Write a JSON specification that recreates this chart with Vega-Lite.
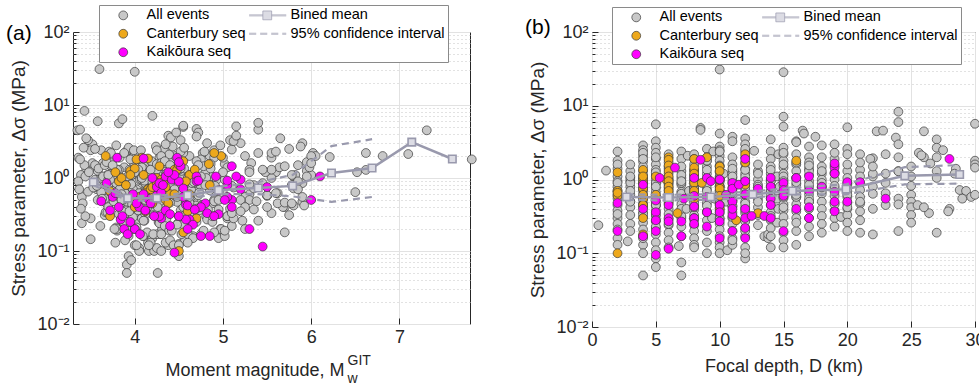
{
"$schema":"https://vega.github.io/schema/vega-lite/v6.json",
"padding":{"left":5,"top":4,"right":0,"bottom":0},
"spacing":45,
"config":{"font":"Liberation Sans","view":{"stroke":"#262626","strokeWidth":1},
"axis":{"labelFont":"Liberation Sans","titleFont":"Liberation Sans","labelColor":"#262626","titleColor":"#262626","labelFontSize":18,"titleFontSize":19,"titleFontWeight":"normal","domain":false,"tickColor":"#262626","labelOverlap":false,"labelFlush":false},
"legend":{"orient":"none","columns":2,"labelFontSize":14.5,"labelFont":"Liberation Sans","labelColor":"#000000","labelLimit":400,"symbolSize":78,"padding":3,"rowPadding":3.5,"columnPadding":-1,"labelOffset":16,"symbolOffset":14,"strokeColor":"#8a8a8a","fillColor":"#ffffff"}},
"datasets":{
"ev":[
{"m":3.4,"d":0.5,"s":0.24,"g":"A"},{"m":3.75,"d":1.1,"s":1.32,"g":"A"},
{"m":3.62,"d":2,"s":2.4,"g":"A"},{"m":4.05,"d":2,"s":1.8,"g":"A"},{"m":3.88,"d":2,"s":1.4,"g":"A"},{"m":4.31,"d":2,"s":1.1,"g":"A"},{"m":3.55,"d":2,"s":0.95,"g":"A"},{"m":4.12,"d":2,"s":0.8,"g":"A"},{"m":3.97,"d":2,"s":0.7,"g":"A"},{"m":4.46,"d":2,"s":0.55,"g":"A"},{"m":3.71,"d":2,"s":0.45,"g":"A"},{"m":4.22,"d":2,"s":0.38,"g":"A"},{"m":3.84,"d":2,"s":0.3,"g":"A"},{"m":4.6,"d":2,"s":0.25,"g":"A"},{"m":3.93,"d":2,"s":0.16,"g":"A"},{"m":4.15,"d":2,"s":0.13,"g":"A"},{"m":3.79,"d":2,"s":0.21,"g":"A"},
{"m":3.52,"d":2,"s":1.6,"g":"A"},{"m":3.66,"d":2,"s":0.62,"g":"A"},{"m":4.38,"d":2,"s":0.9,"g":"A"},{"m":4.02,"d":2,"s":0.34,"g":"A"},
{"m":3.5,"d":2.8,"s":0.145,"g":"A"},
{"m":3.45,"d":3,"s":1.3,"g":"A"},{"m":4.18,"d":3,"s":0.95,"g":"A"},{"m":3.76,"d":3,"s":0.8,"g":"A"},{"m":4.41,"d":3,"s":0.62,"g":"A"},{"m":3.58,"d":3,"s":0.5,"g":"A"},{"m":4.02,"d":3,"s":0.42,"g":"A"},{"m":3.9,"d":3,"s":0.33,"g":"A"},{"m":4.27,"d":3,"s":0.25,"g":"A"},{"m":3.83,"d":3,"s":1.05,"g":"A"},{"m":4.64,"d":3,"s":0.9,"g":"A"},{"m":3.39,"d":3,"s":1.1,"g":"A"},
{"m":3.57,"d":3,"s":0.7,"g":"A"},{"m":4.12,"d":3,"s":1.6,"g":"A"},{"m":3.96,"d":3,"s":0.2,"g":"A"},{"m":4.5,"d":3,"s":0.5,"g":"A"},
{"m":3.52,"d":4,"s":2.9,"g":"A"},{"m":4.33,"d":4,"s":2.5,"g":"A"},{"m":3.95,"d":4,"s":2.1,"g":"A"},{"m":3.68,"d":4,"s":1.75,"g":"A"},{"m":4.48,"d":4,"s":1.5,"g":"A"},{"m":4.08,"d":4,"s":1.3,"g":"A"},{"m":3.81,"d":4,"s":1.15,"g":"A"},{"m":4.21,"d":4,"s":1.0,"g":"A"},{"m":3.6,"d":4,"s":0.88,"g":"A"},{"m":4.71,"d":4,"s":0.78,"g":"A"},{"m":3.99,"d":4,"s":0.7,"g":"A"},{"m":4.37,"d":4,"s":0.62,"g":"A"},{"m":3.74,"d":4,"s":0.55,"g":"A"},{"m":4.13,"d":4,"s":0.48,"g":"A"},{"m":3.87,"d":4,"s":0.42,"g":"A"},{"m":4.52,"d":4,"s":0.36,"g":"A"},{"m":3.66,"d":4,"s":0.31,"g":"A"},{"m":4.04,"d":4,"s":0.26,"g":"A"},{"m":3.92,"d":4,"s":0.21,"g":"A"},{"m":4.29,"d":4,"s":0.17,"g":"A"},{"m":3.78,"d":4,"s":0.13,"g":"A"},{"m":4.16,"d":4,"s":0.1,"g":"A"},{"m":4.26,"d":4,"s":0.05,"g":"A"},{"m":3.4,"d":4,"s":0.55,"g":"A"},
{"m":3.62,"d":4,"s":1.05,"g":"A"},{"m":3.86,"d":4,"s":0.75,"g":"A"},{"m":4.4,"d":4,"s":0.9,"g":"A"},{"m":4.58,"d":4,"s":0.45,"g":"A"},{"m":3.71,"d":4,"s":2.3,"g":"A"},{"m":4.1,"d":4,"s":0.16,"g":"A"},{"m":3.84,"d":4,"s":0.34,"g":"A"},{"m":3.36,"d":4,"s":1.9,"g":"A"},
{"m":3.82,"d":5,"s":5.6,"g":"A"},{"m":3.47,"d":5,"s":3.3,"g":"A"},{"m":4.24,"d":5,"s":2.7,"g":"A"},{"m":3.9,"d":5,"s":2.3,"g":"A"},{"m":4.55,"d":5,"s":1.9,"g":"A"},{"m":3.64,"d":5,"s":1.6,"g":"A"},{"m":4.1,"d":5,"s":1.35,"g":"A"},{"m":3.77,"d":5,"s":1.15,"g":"A"},{"m":4.36,"d":5,"s":1.0,"g":"A"},{"m":4.01,"d":5,"s":0.87,"g":"A"},{"m":3.56,"d":5,"s":0.76,"g":"A"},{"m":4.19,"d":5,"s":0.67,"g":"A"},{"m":3.86,"d":5,"s":0.58,"g":"A"},{"m":4.44,"d":5,"s":0.5,"g":"A"},{"m":3.71,"d":5,"s":0.44,"g":"A"},{"m":4.07,"d":5,"s":0.38,"g":"A"},{"m":3.95,"d":5,"s":0.32,"g":"A"},{"m":4.3,"d":5,"s":0.27,"g":"A"},{"m":3.61,"d":5,"s":0.22,"g":"A"},{"m":4.14,"d":5,"s":0.18,"g":"A"},{"m":3.89,"d":5,"s":0.14,"g":"A"},{"m":4.05,"d":5,"s":0.11,"g":"A"},{"m":3.93,"d":5,"s":0.085,"g":"A"},{"m":3.91,"d":5,"s":0.065,"g":"A"},{"m":3.5,"d":5,"s":0.28,"g":"A"},
{"m":3.58,"d":5,"s":1.25,"g":"A"},{"m":3.83,"d":5,"s":0.9,"g":"A"},{"m":4.28,"d":5,"s":0.8,"g":"A"},{"m":4.49,"d":5,"s":0.6,"g":"A"},{"m":3.67,"d":5,"s":0.34,"g":"A"},{"m":3.99,"d":5,"s":2.0,"g":"A"},{"m":4.6,"d":5,"s":0.23,"g":"A"},{"m":4.21,"d":5,"s":0.45,"g":"A"},{"m":3.41,"d":5,"s":0.45,"g":"A"},
{"m":3.73,"d":6,"s":2.2,"g":"A"},{"m":4.42,"d":6,"s":1.7,"g":"A"},{"m":3.98,"d":6,"s":1.4,"g":"A"},{"m":4.16,"d":6,"s":1.2,"g":"A"},{"m":3.63,"d":6,"s":1.0,"g":"A"},{"m":4.57,"d":6,"s":0.85,"g":"A"},{"m":3.85,"d":6,"s":0.72,"g":"A"},{"m":4.23,"d":6,"s":0.63,"g":"A"},{"m":4.68,"d":6,"s":0.54,"g":"A"},{"m":3.91,"d":6,"s":0.47,"g":"A"},{"m":4.34,"d":6,"s":0.4,"g":"A"},{"m":3.69,"d":6,"s":0.34,"g":"A"},{"m":4.09,"d":6,"s":0.29,"g":"A"},{"m":4.49,"d":6,"s":0.24,"g":"A"},{"m":3.8,"d":6,"s":0.19,"g":"A"},{"m":4.2,"d":6,"s":0.15,"g":"A"},{"m":4.38,"d":6,"s":0.12,"g":"A"},{"m":3.36,"d":6,"s":0.9,"g":"A"},
{"m":3.55,"d":6,"s":1.5,"g":"A"},{"m":4.06,"d":6,"s":0.95,"g":"A"},{"m":4.26,"d":6,"s":0.77,"g":"A"},{"m":3.78,"d":6,"s":0.58,"g":"A"},{"m":4.62,"d":6,"s":1.05,"g":"A"},{"m":3.95,"d":6,"s":0.25,"g":"A"},{"m":4.13,"d":6,"s":0.52,"g":"A"},{"m":3.47,"d":6,"s":0.65,"g":"A"},
{"m":3.5,"d":7,"s":2.4,"g":"A"},{"m":4.28,"d":7,"s":1.9,"g":"A"},{"m":3.94,"d":7,"s":1.3,"g":"A"},{"m":4.6,"d":7,"s":1.05,"g":"A"},{"m":3.79,"d":7,"s":0.85,"g":"A"},{"m":4.12,"d":7,"s":0.68,"g":"A"},{"m":4.45,"d":7,"s":0.55,"g":"A"},{"m":3.67,"d":7,"s":0.46,"g":"A"},{"m":4.03,"d":7,"s":0.38,"g":"A"},{"m":4.81,"d":7,"s":0.3,"g":"A"},{"m":3.88,"d":7,"s":0.23,"g":"A"},{"m":4.25,"d":7,"s":0.17,"g":"A"},{"m":4.5,"d":6.8,"s":0.125,"g":"A"},{"m":3.96,"d":7,"s":0.075,"g":"A"},{"m":3.91,"d":7,"s":0.05,"g":"A"},{"m":3.43,"d":7,"s":1.5,"g":"A"},
{"m":3.62,"d":7,"s":0.64,"g":"A"},{"m":4.18,"d":7,"s":1.15,"g":"A"},{"m":4.37,"d":7,"s":0.9,"g":"A"},{"m":3.82,"d":7,"s":0.32,"g":"A"},{"m":4.55,"d":7,"s":0.4,"g":"A"},{"m":4.08,"d":7,"s":0.95,"g":"A"},
{"m":4.0,"d":7.5,"s":2.1,"g":"A"},{"m":4.3,"d":7.6,"s":0.7,"g":"A"},{"m":3.7,"d":7.4,"s":0.4,"g":"A"},
{"m":4.77,"d":8,"s":2.2,"g":"A"},{"m":3.83,"d":8,"s":1.9,"g":"A"},{"m":4.31,"d":8,"s":1.6,"g":"A"},{"m":3.59,"d":8,"s":1.35,"g":"A"},{"m":4.06,"d":8,"s":1.15,"g":"A"},{"m":4.53,"d":8,"s":1.0,"g":"A"},{"m":3.75,"d":8,"s":0.88,"g":"A"},{"m":4.19,"d":8,"s":0.77,"g":"A"},{"m":3.97,"d":8,"s":0.68,"g":"A"},{"m":4.4,"d":8,"s":0.6,"g":"A"},{"m":3.66,"d":8,"s":0.52,"g":"A"},{"m":4.88,"d":8,"s":0.45,"g":"A"},{"m":4.14,"d":8,"s":0.39,"g":"A"},{"m":3.9,"d":8,"s":0.33,"g":"A"},{"m":4.27,"d":8,"s":0.28,"g":"A"},{"m":4.62,"d":8,"s":0.24,"g":"A"},{"m":3.8,"d":8,"s":0.2,"g":"A"},{"m":4.09,"d":8,"s":0.16,"g":"A"},{"m":4.35,"d":8,"s":0.13,"g":"A"},{"m":4.0,"d":8,"s":0.12,"g":"A"},{"m":3.44,"d":8,"s":0.3,"g":"A"},
{"m":3.69,"d":8,"s":1.1,"g":"A"},{"m":4.24,"d":8,"s":0.95,"g":"A"},{"m":4.46,"d":8,"s":0.8,"g":"A"},{"m":3.87,"d":8,"s":0.5,"g":"A"},{"m":4.7,"d":8,"s":0.65,"g":"A"},{"m":4.03,"d":8,"s":0.42,"g":"A"},{"m":3.53,"d":8,"s":0.74,"g":"A"},
{"m":4.55,"d":8.5,"s":5.0,"g":"A"},{"m":4.7,"d":8.5,"s":4.7,"g":"A"},{"m":3.93,"d":9,"s":2.6,"g":"A"},{"m":4.46,"d":9,"s":2.0,"g":"A"},{"m":3.72,"d":9,"s":1.5,"g":"A"},{"m":4.17,"d":9,"s":1.2,"g":"A"},{"m":4.84,"d":9,"s":0.95,"g":"A"},{"m":3.86,"d":9,"s":0.75,"g":"A"},{"m":4.3,"d":9,"s":0.6,"g":"A"},{"m":3.98,"d":9,"s":0.48,"g":"A"},{"m":4.63,"d":9,"s":0.37,"g":"A"},{"m":4.08,"d":9,"s":0.28,"g":"A"},{"m":3.77,"d":9,"s":0.2,"g":"A"},{"m":4.4,"d":9,"s":0.14,"g":"A"},{"m":4.22,"d":9,"s":0.1,"g":"A"},{"m":3.38,"d":9,"s":1.8,"g":"A"},
{"m":3.64,"d":9,"s":1.05,"g":"A"},{"m":4.12,"d":9,"s":0.85,"g":"A"},{"m":4.36,"d":9,"s":1.35,"g":"A"},{"m":3.9,"d":9,"s":0.36,"g":"A"},{"m":4.55,"d":9,"s":0.7,"g":"A"},{"m":4.25,"d":9,"s":0.44,"g":"A"},{"m":4.75,"d":9,"s":1.8,"g":"A"},
{"m":4.9,"d":9.5,"s":2.4,"g":"A"},{"m":4.1,"d":9.6,"s":0.55,"g":"A"},{"m":4.5,"d":9.4,"s":0.3,"g":"A"},
{"m":3.6,"d":10,"s":31,"g":"A"},{"m":4.72,"d":10,"s":4.2,"g":"A"},{"m":4.97,"d":10,"s":2.8,"g":"A"},{"m":3.55,"d":10,"s":2.5,"g":"A"},{"m":4.39,"d":10,"s":2.1,"g":"A"},{"m":4.05,"d":10,"s":1.8,"g":"A"},{"m":5.02,"d":10,"s":1.55,"g":"A"},{"m":3.82,"d":10,"s":1.3,"g":"A"},{"m":4.26,"d":10,"s":1.1,"g":"A"},{"m":4.61,"d":10,"s":0.95,"g":"A"},{"m":3.7,"d":10,"s":0.82,"g":"A"},{"m":4.15,"d":10,"s":0.71,"g":"A"},{"m":4.92,"d":10,"s":0.62,"g":"A"},{"m":3.96,"d":10,"s":0.54,"g":"A"},{"m":4.48,"d":10,"s":0.47,"g":"A"},{"m":4.1,"d":10,"s":0.41,"g":"A"},{"m":3.86,"d":10,"s":0.35,"g":"A"},{"m":4.33,"d":10,"s":0.3,"g":"A"},{"m":4.7,"d":10,"s":0.25,"g":"A"},{"m":4.02,"d":10,"s":0.21,"g":"A"},{"m":4.21,"d":10,"s":0.17,"g":"A"},{"m":4.57,"d":10,"s":0.14,"g":"A"},{"m":4.44,"d":10,"s":0.12,"g":"A"},{"m":4.05,"d":10,"s":0.1,"g":"A"},{"m":3.37,"d":10,"s":0.7,"g":"A"},
{"m":3.66,"d":10,"s":1.5,"g":"A"},{"m":3.88,"d":10,"s":0.95,"g":"A"},{"m":4.31,"d":10,"s":0.8,"g":"A"},{"m":4.53,"d":10,"s":1.25,"g":"A"},{"m":4.12,"d":10,"s":0.6,"g":"A"},{"m":4.78,"d":10,"s":0.38,"g":"A"},{"m":3.76,"d":10,"s":0.48,"g":"A"},{"m":4.25,"d":10,"s":2.4,"g":"A"},{"m":3.98,"d":10,"s":0.29,"g":"A"},{"m":4.64,"d":10,"s":0.68,"g":"A"},{"m":3.44,"d":10,"s":1.05,"g":"A"},{"m":4.88,"d":10,"s":1.05,"g":"A"},
{"m":4.6,"d":10.5,"s":0.5,"g":"A"},{"m":4.8,"d":10.3,"s":1.2,"g":"A"},{"m":4.25,"d":10.6,"s":0.11,"g":"A"},
{"m":4.38,"d":11,"s":3.8,"g":"A"},{"m":5.08,"d":11,"s":3.3,"g":"A"},{"m":4.85,"d":11,"s":2.0,"g":"A"},{"m":3.74,"d":11,"s":1.6,"g":"A"},{"m":4.5,"d":11,"s":1.3,"g":"A"},{"m":4.13,"d":11,"s":1.05,"g":"A"},{"m":3.92,"d":11,"s":0.88,"g":"A"},{"m":5.12,"d":11,"s":0.74,"g":"A"},{"m":4.27,"d":11,"s":0.62,"g":"A"},{"m":3.63,"d":11,"s":0.52,"g":"A"},{"m":4.76,"d":11,"s":0.43,"g":"A"},{"m":4.04,"d":11,"s":0.36,"g":"A"},{"m":4.55,"d":11,"s":0.3,"g":"A"},{"m":3.87,"d":11,"s":0.25,"g":"A"},{"m":4.31,"d":11,"s":0.2,"g":"A"},{"m":4.66,"d":11,"s":0.16,"g":"A"},{"m":4.18,"d":11,"s":0.13,"g":"A"},{"m":4.95,"d":11,"s":0.15,"g":"A"},{"m":3.48,"d":11,"s":1.2,"g":"A"},
{"m":3.7,"d":11,"s":0.95,"g":"A"},{"m":4.08,"d":11,"s":1.4,"g":"A"},{"m":4.44,"d":11,"s":0.68,"g":"A"},{"m":3.97,"d":11,"s":0.44,"g":"A"},{"m":4.62,"d":11,"s":1.1,"g":"A"},{"m":4.21,"d":11,"s":0.31,"g":"A"},{"m":3.57,"d":11,"s":0.78,"g":"A"},{"m":4.98,"d":11,"s":0.52,"g":"A"},
{"m":3.86,"d":12,"s":6.4,"g":"A"},{"m":4.41,"d":12,"s":3.6,"g":"A"},{"m":5.2,"d":12,"s":3.0,"g":"A"},{"m":3.99,"d":12,"s":2.4,"g":"A"},{"m":4.62,"d":12,"s":2.0,"g":"A"},{"m":3.68,"d":12,"s":1.65,"g":"A"},{"m":5.05,"d":12,"s":1.4,"g":"A"},{"m":4.23,"d":12,"s":1.2,"g":"A"},{"m":4.81,"d":12,"s":1.0,"g":"A"},{"m":3.79,"d":12,"s":0.85,"g":"A"},{"m":4.47,"d":12,"s":0.72,"g":"A"},{"m":5.3,"d":12,"s":0.6,"g":"A"},{"m":4.06,"d":12,"s":0.5,"g":"A"},{"m":4.69,"d":12,"s":0.42,"g":"A"},{"m":3.94,"d":12,"s":0.35,"g":"A"},{"m":4.36,"d":12,"s":0.28,"g":"A"},{"m":5.1,"d":12,"s":0.22,"g":"A"},{"m":4.53,"d":12,"s":0.17,"g":"A"},{"m":4.16,"d":12,"s":0.12,"g":"A"},{"m":4.5,"d":12,"s":0.085,"g":"A"},{"m":4.3,"d":12,"s":0.1,"g":"A"},{"m":3.42,"d":12,"s":2.6,"g":"A"},
{"m":3.76,"d":12,"s":1.1,"g":"A"},{"m":4.11,"d":12,"s":0.92,"g":"A"},{"m":4.56,"d":12,"s":1.35,"g":"A"},{"m":3.89,"d":12,"s":0.62,"g":"A"},{"m":4.28,"d":12,"s":0.47,"g":"A"},{"m":4.75,"d":12,"s":0.78,"g":"A"},{"m":4.0,"d":12,"s":0.2,"g":"A"},{"m":3.39,"d":12,"s":0.38,"g":"A"},{"m":4.82,"d":12,"s":0.27,"g":"A"},
{"m":5.1,"d":12.7,"s":2.45,"g":"A"},{"m":4.34,"d":13,"s":1.0,"g":"A"},{"m":5.45,"d":13,"s":0.85,"g":"A"},{"m":3.83,"d":13,"s":0.7,"g":"A"},{"m":4.64,"d":13,"s":0.55,"g":"A"},{"m":4.1,"d":13,"s":0.42,"g":"A"},{"m":5.55,"d":13,"s":0.33,"g":"A"},{"m":4.28,"d":13,"s":0.24,"g":"A"},{"m":4.75,"d":13.5,"s":0.17,"g":"A"},{"m":5.02,"d":13.8,"s":0.16,"g":"A"},{"m":5.7,"d":13.8,"s":0.18,"g":"A"},
{"m":3.8,"d":13,"s":1.3,"g":"A"},{"m":4.47,"d":13,"s":0.8,"g":"A"},{"m":4.02,"d":13,"s":0.6,"g":"A"},{"m":4.9,"d":13,"s":0.5,"g":"A"},{"m":4.2,"d":13,"s":1.6,"g":"A"},{"m":4.67,"d":13,"s":1.2,"g":"A"},
{"m":4.07,"d":14,"s":2.4,"g":"A"},{"m":4.9,"d":14,"s":1.9,"g":"A"},{"m":3.75,"d":14,"s":1.5,"g":"A"},{"m":5.6,"d":14,"s":1.2,"g":"A"},{"m":4.44,"d":14,"s":1.0,"g":"A"},{"m":3.9,"d":14,"s":0.82,"g":"A"},{"m":4.85,"d":14,"s":0.68,"g":"A"},{"m":5.25,"d":14,"s":0.55,"g":"A"},{"m":4.2,"d":14,"s":0.45,"g":"A"},{"m":4.73,"d":14,"s":0.36,"g":"A"},{"m":5.05,"d":14,"s":0.28,"g":"A"},{"m":4.34,"d":14,"s":0.22,"g":"A"},{"m":4.6,"d":14,"s":0.17,"g":"A"},{"m":4.02,"d":14,"s":0.12,"g":"A"},{"m":3.45,"d":14,"s":3.5,"g":"A"},
{"m":3.72,"d":14,"s":0.95,"g":"A"},{"m":4.28,"d":14,"s":0.7,"g":"A"},{"m":4.52,"d":14,"s":1.35,"g":"A"},{"m":4.12,"d":14,"s":0.32,"g":"A"},{"m":3.85,"d":14,"s":0.6,"g":"A"},{"m":4.93,"d":14,"s":0.95,"g":"A"},
{"m":4.55,"d":14.6,"s":2.2,"g":"A"},{"m":3.97,"d":14.5,"s":1.1,"g":"A"},{"m":5.35,"d":14.7,"s":0.8,"g":"A"},{"m":4.48,"d":14.5,"s":0.55,"g":"A"},{"m":5.7,"d":14.6,"s":0.4,"g":"A"},{"m":4.11,"d":14.5,"s":0.26,"g":"A"},
{"m":4.0,"d":15,"s":28.5,"g":"A"},{"m":4.2,"d":15,"s":7.1,"g":"A"},{"m":4.55,"d":15,"s":5.2,"g":"A"},{"m":4.43,"d":15,"s":2.7,"g":"A"},{"m":5.4,"d":15,"s":2.2,"g":"A"},{"m":3.95,"d":15,"s":1.8,"g":"A"},{"m":4.78,"d":15,"s":1.45,"g":"A"},{"m":4.18,"d":15,"s":1.2,"g":"A"},{"m":5.55,"d":15,"s":1.0,"g":"A"},{"m":4.3,"d":15,"s":0.83,"g":"A"},{"m":4.96,"d":15,"s":0.68,"g":"A"},{"m":3.82,"d":15,"s":0.56,"g":"A"},{"m":4.62,"d":15,"s":0.46,"g":"A"},{"m":5.08,"d":15,"s":0.38,"g":"A"},{"m":4.24,"d":15,"s":0.31,"g":"A"},{"m":4.88,"d":15,"s":0.25,"g":"A"},{"m":4.39,"d":15,"s":0.19,"g":"A"},{"m":4.66,"d":15,"s":0.15,"g":"A"},{"m":4.5,"d":15,"s":0.12,"g":"A"},
{"m":3.7,"d":15,"s":1.1,"g":"A"},{"m":4.12,"d":15,"s":0.65,"g":"A"},{"m":4.34,"d":15,"s":1.6,"g":"A"},{"m":4.05,"d":15,"s":0.42,"g":"A"},{"m":3.9,"d":15,"s":0.95,"g":"A"},{"m":4.72,"d":15,"s":0.58,"g":"A"},{"m":4.79,"d":15,"s":2.3,"g":"A"},
{"m":4.52,"d":16,"s":3.3,"g":"A"},{"m":5.12,"d":16,"s":3.2,"g":"A"},{"m":3.88,"d":16,"s":2.2,"g":"A"},{"m":5.32,"d":16,"s":1.6,"g":"A"},{"m":4.25,"d":16,"s":1.3,"g":"A"},{"m":5.8,"d":16,"s":1.05,"g":"A"},{"m":4.65,"d":16,"s":0.85,"g":"A"},{"m":4.02,"d":16,"s":0.7,"g":"A"},{"m":5.5,"d":16,"s":0.57,"g":"A"},{"m":4.4,"d":16,"s":0.46,"g":"A"},{"m":4.83,"d":16,"s":0.37,"g":"A"},{"m":5.05,"d":16,"s":0.3,"g":"A"},{"m":4.97,"d":16,"s":0.2,"g":"A"},{"m":4.6,"d":16,"s":0.13,"g":"A"},
{"m":3.92,"d":16,"s":1.05,"g":"A"},{"m":4.16,"d":16,"s":0.58,"g":"A"},{"m":4.32,"d":16,"s":0.92,"g":"A"},{"m":4.7,"d":16,"s":1.7,"g":"A"},{"m":4.1,"d":16,"s":0.26,"g":"A"},{"m":5.0,"d":16,"s":0.62,"g":"A"},
{"m":5.4,"d":16.5,"s":4.6,"g":"A"},{"m":4.47,"d":16.6,"s":4.2,"g":"A"},{"m":3.79,"d":17,"s":2.8,"g":"A"},{"m":5.25,"d":17,"s":2.0,"g":"A"},{"m":4.19,"d":17,"s":1.7,"g":"A"},{"m":5.64,"d":17,"s":1.4,"g":"A"},{"m":4.36,"d":17,"s":1.15,"g":"A"},{"m":5.02,"d":17,"s":0.95,"g":"A"},{"m":3.96,"d":17,"s":0.78,"g":"A"},{"m":4.73,"d":17,"s":0.63,"g":"A"},{"m":5.3,"d":17,"s":0.5,"g":"A"},{"m":4.1,"d":17,"s":0.4,"g":"A"},{"m":4.88,"d":17,"s":0.3,"g":"A"},{"m":4.55,"d":17,"s":0.23,"g":"A"},{"m":4.3,"d":17,"s":0.17,"g":"A"},
{"m":4.04,"d":17,"s":1.3,"g":"A"},{"m":4.4,"d":17,"s":0.85,"g":"A"},{"m":4.62,"d":17,"s":0.55,"g":"A"},{"m":3.85,"d":17,"s":0.5,"g":"A"},{"m":4.86,"d":17,"s":1.55,"g":"A"},
{"m":5.15,"d":17.5,"s":3.8,"g":"A"},{"m":4.35,"d":18,"s":2.9,"g":"A"},{"m":4.72,"d":18,"s":1.5,"g":"A"},{"m":5.48,"d":18,"s":1.2,"g":"A"},{"m":4.08,"d":18,"s":1.0,"g":"A"},{"m":5.78,"d":18,"s":0.8,"g":"A"},{"m":4.5,"d":18,"s":0.64,"g":"A"},{"m":5.2,"d":18,"s":0.5,"g":"A"},{"m":4.26,"d":18,"s":0.4,"g":"A"},{"m":4.94,"d":18,"s":0.32,"g":"A"},{"m":4.64,"d":18,"s":0.25,"g":"A"},{"m":4.42,"d":18,"s":0.19,"g":"A"},
{"m":3.98,"d":18,"s":0.7,"g":"A"},{"m":4.18,"d":18,"s":1.3,"g":"A"},{"m":4.58,"d":18,"s":0.9,"g":"A"},{"m":4.3,"d":18,"s":2.0,"g":"A"},{"m":4.91,"d":18,"s":0.78,"g":"A"},
{"m":4.82,"d":19,"s":3.0,"g":"A"},{"m":5.55,"d":19,"s":1.9,"g":"A"},{"m":4.25,"d":19,"s":1.55,"g":"A"},{"m":5.95,"d":19,"s":1.25,"g":"A"},{"m":4.6,"d":19,"s":1.0,"g":"A"},{"m":5.1,"d":19,"s":0.78,"g":"A"},{"m":4.38,"d":19,"s":0.6,"g":"A"},{"m":5.38,"d":19,"s":0.48,"g":"A"},{"m":4.7,"d":19,"s":0.38,"g":"A"},{"m":5.05,"d":19,"s":0.3,"g":"A"},{"m":4.48,"d":19,"s":0.23,"g":"A"},{"m":5.75,"d":19.5,"s":0.31,"g":"A"},
{"m":3.96,"d":19,"s":0.82,"g":"A"},{"m":4.15,"d":19,"s":0.46,"g":"A"},{"m":4.52,"d":19,"s":2.3,"g":"A"},{"m":5.0,"d":19,"s":1.2,"g":"A"},
{"m":5.15,"d":20,"s":5.1,"g":"A"},{"m":4.56,"d":20,"s":2.6,"g":"A"},{"m":6.02,"d":20,"s":2.2,"g":"A"},{"m":5.3,"d":20,"s":1.3,"g":"A"},{"m":4.75,"d":20,"s":1.05,"g":"A"},{"m":5.9,"d":20,"s":0.85,"g":"A"},{"m":4.45,"d":20,"s":0.7,"g":"A"},{"m":5.5,"d":20,"s":0.58,"g":"A"},{"m":4.9,"d":20,"s":0.48,"g":"A"},{"m":5.68,"d":20,"s":0.4,"g":"A"},{"m":4.62,"d":20,"s":0.33,"g":"A"},{"m":5.22,"d":20,"s":0.26,"g":"A"},{"m":4.98,"d":20,"s":0.2,"g":"A"},
{"m":4.05,"d":20,"s":0.62,"g":"A"},{"m":4.3,"d":20,"s":1.6,"g":"A"},{"m":4.2,"d":20,"s":0.9,"g":"A"},{"m":4.76,"d":20,"s":0.42,"g":"A"},
{"m":5.55,"d":21,"s":2.2,"g":"A"},{"m":4.86,"d":21,"s":1.35,"g":"A"},{"m":5.82,"d":21,"s":1.1,"g":"A"},{"m":4.67,"d":21,"s":0.88,"g":"A"},{"m":5.35,"d":21,"s":0.72,"g":"A"},{"m":4.45,"d":21,"s":0.58,"g":"A"},{"m":5.9,"d":21,"s":0.47,"g":"A"},{"m":4.95,"d":21,"s":0.37,"g":"A"},{"m":5.12,"d":21,"s":0.28,"g":"A"},{"m":4.78,"d":21,"s":0.19,"g":"A"},
{"m":4.34,"d":21,"s":1.7,"g":"A"},{"m":4.12,"d":21,"s":0.5,"g":"A"},
{"m":3.35,"d":22.3,"s":4.5,"g":"A"},{"m":6.21,"d":22,"s":1.94,"g":"A"},{"m":5.0,"d":21.8,"s":1.9,"g":"A"},{"m":5.78,"d":22,"s":1.1,"g":"A"},{"m":4.8,"d":22,"s":0.8,"g":"A"},{"m":6.5,"d":22,"s":0.64,"g":"A"},{"m":5.25,"d":22,"s":0.4,"g":"A"},{"m":4.9,"d":22,"s":0.18,"g":"A"},{"m":4.0,"d":22,"s":1.2,"g":"A"},{"m":4.4,"d":22,"s":1.5,"g":"A"},
{"m":3.38,"d":22.8,"s":4.6,"g":"A"},{"m":6.62,"d":23,"s":2.2,"g":"A"},{"m":5.3,"d":23,"s":1.2,"g":"A"},{"m":5.85,"d":23,"s":0.9,"g":"A"},{"m":4.95,"d":23,"s":0.65,"g":"A"},{"m":5.62,"d":23,"s":0.45,"g":"A"},
{"m":3.43,"d":24,"s":8.3,"g":"A"},{"m":3.58,"d":24,"s":6.0,"g":"A"},{"m":4.7,"d":23.8,"s":3.7,"g":"A"},{"m":5.9,"d":24,"s":3.0,"g":"A"},{"m":6.05,"d":24,"s":2.0,"g":"A"},{"m":5.55,"d":24,"s":1.3,"g":"A"},{"m":6.62,"d":24,"s":1.29,"g":"A"},{"m":4.98,"d":24,"s":0.55,"g":"A"},{"m":5.7,"d":24,"s":0.46,"g":"A"},{"m":5.25,"d":24,"s":0.2,"g":"A"},
{"m":5.85,"d":25,"s":1.5,"g":"A"},{"m":6.0,"d":25,"s":1.1,"g":"A"},{"m":5.3,"d":25,"s":0.82,"g":"A"},{"m":5.62,"d":25,"s":0.62,"g":"A"},{"m":4.95,"d":25,"s":0.5,"g":"A"},{"m":5.8,"d":25,"s":0.42,"g":"A"},{"m":5.1,"d":25,"s":0.33,"g":"A"},{"m":5.4,"d":25,"s":0.26,"g":"A"},
{"m":6.81,"d":26,"s":2.0,"g":"A"},{"m":5.6,"d":25.6,"s":2.3,"g":"A"},{"m":7.1,"d":25.8,"s":2.13,"g":"A"},{"m":5.78,"d":25.5,"s":0.45,"g":"A"},{"m":5.2,"d":26.4,"s":0.35,"g":"A"},{"m":5.92,"d":26,"s":0.42,"g":"A"},{"m":7.31,"d":26,"s":4.5,"g":"A"},{"m":5.95,"d":26.5,"s":1.65,"g":"A"},
{"m":5.65,"d":27,"s":3.5,"g":"A"},{"m":5.88,"d":27,"s":2.7,"g":"A"},{"m":6.0,"d":27,"s":2.0,"g":"A"},{"m":5.45,"d":27,"s":1.3,"g":"A"},{"m":5.95,"d":27,"s":1.05,"g":"A"},{"m":5.02,"d":27,"s":0.19,"g":"A"},
{"m":5.75,"d":27.5,"s":2.5,"g":"A"},{"m":5.98,"d":28.5,"s":1.4,"g":"A"},{"m":6.52,"d":28.4,"s":1.2,"g":"A"},{"m":5.8,"d":28.8,"s":0.72,"g":"A"},{"m":5.5,"d":28,"s":0.4,"g":"A"},{"m":5.35,"d":27.9,"s":0.37,"g":"A"},
{"m":5.4,"d":30,"s":5.7,"g":"A"},{"m":7.82,"d":30,"s":1.8,"g":"A"},{"m":6.0,"d":30,"s":1.6,"g":"A"},{"m":5.7,"d":30,"s":1.45,"g":"A"},{"m":5.85,"d":29.3,"s":0.7,"g":"A"},{"m":5.5,"d":29.7,"s":0.58,"g":"A"},{"m":5.9,"d":29,"s":0.55,"g":"A"},{"m":5.6,"d":30,"s":0.62,"g":"A"},
{"m":3.95,"d":2,"s":1.25,"g":"C"},{"m":4.15,"d":2,"s":0.7,"g":"C"},{"m":4.4,"d":2,"s":0.6,"g":"C"},{"m":4.5,"d":2,"s":0.1,"g":"C"},{"m":3.72,"d":2,"s":0.66,"g":"C"},
{"m":4.0,"d":4,"s":1.35,"g":"C"},{"m":4.25,"d":4,"s":1.0,"g":"C"},{"m":3.82,"d":4,"s":0.9,"g":"C"},{"m":4.35,"d":4,"s":0.75,"g":"C"},{"m":4.05,"d":4,"s":0.55,"g":"C"},{"m":4.2,"d":4,"s":0.45,"g":"C"},{"m":3.72,"d":4,"s":0.3,"g":"C"},{"m":4.55,"d":4,"s":0.18,"g":"C"},{"m":3.95,"d":4,"s":1.1,"g":"C"},{"m":4.12,"d":4,"s":0.62,"g":"C"},
{"m":4.22,"d":5,"s":0.62,"g":"C"},{"m":3.85,"d":5.8,"s":1.0,"g":"C"},{"m":4.62,"d":5,"s":1.1,"g":"C"},
{"m":3.67,"d":6,"s":2.0,"g":"C"},{"m":4.15,"d":6,"s":1.85,"g":"C"},{"m":4.84,"d":6,"s":1.55,"g":"C"},{"m":4.45,"d":6,"s":1.3,"g":"C"},{"m":4.1,"d":6,"s":1.1,"g":"C"},{"m":4.3,"d":6,"s":0.95,"g":"C"},{"m":3.9,"d":6,"s":0.8,"g":"C"},{"m":4.62,"d":6,"s":0.6,"g":"C"},{"m":4.12,"d":6.7,"s":0.35,"g":"C"},{"m":4.18,"d":6,"s":0.7,"g":"C"},{"m":4.35,"d":6,"s":0.5,"g":"C"},
{"m":4.08,"d":8,"s":1.9,"g":"C"},{"m":4.48,"d":8,"s":1.3,"g":"C"},{"m":4.58,"d":8,"s":0.9,"g":"C"},{"m":4.27,"d":8,"s":0.7,"g":"C"},{"m":3.98,"d":8,"s":0.55,"g":"C"},{"m":4.33,"d":8.6,"s":0.9,"g":"C"},{"m":4.98,"d":9,"s":2.0,"g":"C"},{"m":4.28,"d":8,"s":1.45,"g":"C"},{"m":3.78,"d":8,"s":1.2,"g":"C"},
{"m":4.5,"d":10,"s":1.5,"g":"C"},{"m":4.68,"d":10,"s":1.3,"g":"C"},{"m":4.85,"d":10,"s":0.8,"g":"C"},{"m":4.2,"d":10,"s":0.75,"g":"C"},{"m":4.38,"d":10,"s":0.45,"g":"C"},{"m":4.0,"d":10,"s":0.4,"g":"C"},{"m":4.4,"d":10,"s":1.0,"g":"C"},{"m":4.45,"d":10,"s":0.6,"g":"C"},
{"m":4.7,"d":11.3,"s":0.28,"g":"C"},{"m":4.9,"d":12,"s":2.2,"g":"C"},{"m":4.55,"d":12,"s":1.7,"g":"C"},{"m":4.25,"d":12,"s":0.85,"g":"C"},{"m":4.6,"d":13,"s":0.35,"g":"C"},{"m":4.02,"d":16,"s":1.8,"g":"C"},
{"m":3.62,"d":2,"s":0.48,"g":"K"},{"m":3.88,"d":2,"s":0.2,"g":"K"},{"m":3.68,"d":4,"s":0.85,"g":"K"},{"m":4.05,"d":4,"s":0.4,"g":"K"},{"m":3.92,"d":4,"s":0.17,"g":"K"},
{"m":4.12,"d":5,"s":0.36,"g":"K"},{"m":4.3,"d":5,"s":0.28,"g":"K"},{"m":4.0,"d":5,"s":0.2,"g":"K"},{"m":4.45,"d":5,"s":0.095,"g":"K"},{"m":4.7,"d":5.3,"s":1.05,"g":"K"},{"m":4.15,"d":5,"s":0.52,"g":"K"},
{"m":4.28,"d":6,"s":0.3,"g":"K"},{"m":3.84,"d":6,"s":0.27,"g":"K"},{"m":5.45,"d":6,"s":0.115,"g":"K"},{"m":4.18,"d":6,"s":0.45,"g":"K"},{"m":4.52,"d":6.5,"s":1.45,"g":"K"},
{"m":4.62,"d":7,"s":0.27,"g":"K"},{"m":4.06,"d":7,"s":0.17,"g":"K"},{"m":3.75,"d":7.2,"s":0.55,"g":"K"},
{"m":4.35,"d":8,"s":1.05,"g":"K"},{"m":3.98,"d":8,"s":0.6,"g":"K"},{"m":4.58,"d":8,"s":0.43,"g":"K"},{"m":4.22,"d":8,"s":0.3,"g":"K"},{"m":4.1,"d":8.5,"s":1.85,"g":"K"},{"m":3.95,"d":8,"s":0.25,"g":"K"},
{"m":4.92,"d":9,"s":1.05,"g":"K"},{"m":3.72,"d":9,"s":0.36,"g":"K"},{"m":4.66,"d":9,"s":0.23,"g":"K"},{"m":4.42,"d":9.3,"s":0.95,"g":"K"},{"m":4.25,"d":9,"s":0.58,"g":"K"},
{"m":4.2,"d":10,"s":1.0,"g":"K"},{"m":4.8,"d":10,"s":0.45,"g":"K"},{"m":4.35,"d":10,"s":0.36,"g":"K"},{"m":4.85,"d":10,"s":0.16,"g":"K"},{"m":3.78,"d":10.5,"s":0.62,"g":"K"},{"m":4.58,"d":10,"s":0.27,"g":"K"},
{"m":4.5,"d":11,"s":0.9,"g":"K"},{"m":5.1,"d":11,"s":0.5,"g":"K"},{"m":4.25,"d":11,"s":0.75,"g":"K"},{"m":4.82,"d":11,"s":0.33,"g":"K"},{"m":4.6,"d":11,"s":0.2,"g":"K"},{"m":4.28,"d":11.5,"s":0.85,"g":"K"},{"m":3.82,"d":11,"s":0.4,"g":"K"},
{"m":4.48,"d":12,"s":1.9,"g":"K"},{"m":5.1,"d":12,"s":0.4,"g":"K"},{"m":4.3,"d":12,"s":0.63,"g":"K"},{"m":3.86,"d":12,"s":0.3,"g":"K"},{"m":4.75,"d":12,"s":0.16,"g":"K"},{"m":5.2,"d":12,"s":0.95,"g":"K"},{"m":4.95,"d":12.5,"s":0.32,"g":"K"},{"m":4.4,"d":12,"s":0.22,"g":"K"},
{"m":5.5,"d":13,"s":0.75,"g":"K"},{"m":4.4,"d":13.5,"s":0.32,"g":"K"},
{"m":5.15,"d":14,"s":1.05,"g":"K"},{"m":4.32,"d":14,"s":0.8,"g":"K"},{"m":5.05,"d":14,"s":0.55,"g":"K"},{"m":4.02,"d":14,"s":0.45,"g":"K"},{"m":4.5,"d":14,"s":0.3,"g":"K"},
{"m":5.3,"d":15,"s":0.2,"g":"K"},{"m":4.7,"d":15,"s":0.9,"g":"K"},{"m":4.55,"d":15,"s":0.72,"g":"K"},{"m":4.1,"d":15,"s":0.6,"g":"K"},
{"m":6.1,"d":16,"s":1.05,"g":"K"},{"m":4.75,"d":16,"s":0.4,"g":"K"},
{"m":5.2,"d":17,"s":0.7,"g":"K"},{"m":4.45,"d":17,"s":1.1,"g":"K"},{"m":4.6,"d":17,"s":0.42,"g":"K"},{"m":4.9,"d":17,"s":0.3,"g":"K"},{"m":5.05,"d":18,"s":0.8,"g":"K"},
{"m":5.1,"d":19,"s":1.45,"g":"K"},{"m":4.5,"d":19,"s":1.65,"g":"K"},{"m":4.38,"d":19,"s":1.2,"g":"K"},{"m":4.95,"d":19,"s":0.68,"g":"K"},{"m":5.02,"d":19,"s":0.5,"g":"K"},{"m":4.68,"d":19,"s":0.37,"g":"K"},
{"m":4.72,"d":20,"s":0.92,"g":"K"},{"m":6.0,"d":20,"s":0.5,"g":"K"},{"m":5.05,"d":21,"s":0.92,"g":"K"},{"m":4.55,"d":23,"s":0.55,"g":"K"},{"m":3.8,"d":28,"s":1.9,"g":"K"}
],
"meanA":[{"m":3.53,"s":0.88},{"m":3.92,"s":0.53},{"m":4.25,"s":0.53},{"m":4.6,"s":0.58},{"m":4.95,"s":0.68},{"m":5.4,"s":0.73},{"m":5.79,"s":0.78},{"m":6.23,"s":1.17},{"m":6.69,"s":1.37},{"m":7.14,"s":3.1},{"m":7.6,"s":1.82}],
"ciA":[{"m":3.53,"s":0.97,"b":"u"},{"m":3.92,"s":0.57,"b":"u"},{"m":4.25,"s":0.57,"b":"u"},{"m":4.6,"s":0.63,"b":"u"},{"m":4.95,"s":0.76,"b":"u"},{"m":5.4,"s":0.88,"b":"u"},{"m":5.79,"s":1.1,"b":"u"},{"m":6.23,"s":2.74,"b":"u"},{"m":6.69,"s":3.4,"b":"u"},
{"m":3.53,"s":0.8,"b":"l"},{"m":3.92,"s":0.49,"b":"l"},{"m":4.25,"s":0.49,"b":"l"},{"m":4.6,"s":0.53,"b":"l"},{"m":4.95,"s":0.6,"b":"l"},{"m":5.4,"s":0.6,"b":"l"},{"m":5.79,"s":0.56,"b":"l"},{"m":6.23,"s":0.47,"b":"l"},{"m":6.69,"s":0.55,"b":"l"}],
"meanB":[{"d":2.7,"s":0.58},{"d":6.0,"s":0.57},{"d":9.3,"s":0.58},{"d":12.6,"s":0.63},{"d":15.7,"s":0.7},{"d":19.9,"s":0.74},{"d":24.5,"s":1.12},{"d":28.8,"s":1.17}],
"ciB":[{"d":2.7,"s":0.63,"b":"u"},{"d":6.0,"s":0.62,"b":"u"},{"d":9.3,"s":0.63,"b":"u"},{"d":12.6,"s":0.69,"b":"u"},{"d":15.7,"s":0.77,"b":"u"},{"d":19.9,"s":0.86,"b":"u"},{"d":24.5,"s":1.47,"b":"u"},{"d":28.8,"s":1.57,"b":"u"},
{"d":2.7,"s":0.53,"b":"l"},{"d":6.0,"s":0.52,"b":"l"},{"d":9.3,"s":0.53,"b":"l"},{"d":12.6,"s":0.57,"b":"l"},{"d":15.7,"s":0.63,"b":"l"},{"d":19.9,"s":0.63,"b":"l"},{"d":24.5,"s":0.86,"b":"l"},{"d":28.8,"s":0.88,"b":"l"}]
},
"resolve":{"scale":{"color":"independent","stroke":"independent","shape":"independent","strokeWidth":"independent"},"legend":{"color":"independent","stroke":"independent","shape":"independent","strokeWidth":"independent"}},
"hconcat":[
{
"width":397,"height":292,
"title":{"text":"(a)","anchor":"start","frame":"group","orient":"top","fontSize":21,"fontWeight":"normal","color":"#000000","dx":-67,"dy":19,"offset":-20},
"encoding":{"y":{"field":"s","type":"quantitative","scale":{"type":"log","domain":[0.01,100],"nice":false},
"axis":{"title":"Stress parameter, Δσ (MPa)","titlePadding":8,"labelPadding":10,
"values":[0.01,0.02,0.03,0.04,0.05,0.06,0.07,0.08,0.09,0.1,0.2,0.3,0.4,0.5,0.6,0.7,0.8,0.9,1,2,3,4,5,6,7,8,9,10,20,30,40,50,60,70,80,90,100],
"labelExpr":"datum.value==100?'10²':datum.value==10?'10¹':datum.value==1?'10⁰':datum.value==0.1?'10⁻¹':datum.value==0.01?'10⁻²':''",
"gridDash":{"condition":{"test":"datum.value==100||datum.value==10||datum.value==1||datum.value==0.1||datum.value==0.01","value":[]},"value":[1,3]},
"gridColor":{"condition":{"test":"datum.value==100||datum.value==10||datum.value==1||datum.value==0.1||datum.value==0.01","value":"#e2e2e2"},"value":"#c4c4c4"},
"tickSize":{"condition":{"test":"datum.value==100||datum.value==10||datum.value==1||datum.value==0.1||datum.value==0.01","value":-6},"value":-3}}}},
"resolve":{"axis":{"x":"independent"}},
"layer":[
{"data":{"name":"ev"},"mark":{"type":"point","filled":true,"size":78,"opacity":1},
"encoding":{"x":{"field":"m","type":"quantitative","scale":{"domain":[3.3,7.8],"nice":false,"zero":false},
"axis":{"orient":"bottom","values":[4,5,6,7],"grid":true,"gridColor":"#e2e2e2","tickSize":-6,"labelPadding":10,"title":"Moment magnitude, M","titleX":92,"titleY":51,"titleAlign":"left","titleBaseline":"alphabetic","titleFontSize":18}},
"color":{"field":"g","type":"nominal","scale":{"domain":["A","C","K","B","D"],"range":["#c8c8c8","#eda81c","#ff00ff","#dcdce4","#ffffff"]},
"legend":{"legendX":26,"legendY":-27,"title":null,"labelExpr":"datum.label=='A'?'All events':datum.label=='B'?'Bined mean':datum.label=='C'?'Canterbury seq':datum.label=='D'?'95% confidence interval':'Kaikōura seq'"}},
"stroke":{"field":"g","type":"nominal","scale":{"domain":["A","C","K","B","D"],"range":["#3a3a3a","#3a3a3a","#3a3a3a","#9999ad","#9999ad"]},
"legend":{"legendX":26,"legendY":-27,"title":null,"labelExpr":"datum.label=='A'?'All events':datum.label=='B'?'Bined mean':datum.label=='C'?'Canterbury seq':datum.label=='D'?'95% confidence interval':'Kaikōura seq'"}},
"shape":{"field":"g","type":"nominal","scale":{"domain":["A","C","K","B","D"],"range":["circle","circle","circle","M-4.1,-0.12H-1M1,-0.12H4.3M-4.1,0.12H-1M1,0.12H4.3M-1,-1H1V1H-1Z","M-4.1,-0.12H-2.5M-1.6,-0.12H0M0.9,-0.12H2.5M3.4,-0.12H4.3M-4.1,0.12H-2.5M-1.6,0.12H0M0.9,0.12H2.5M3.4,0.12H4.3"]},
"legend":{"legendX":26,"legendY":-27,"title":null,"labelExpr":"datum.label=='A'?'All events':datum.label=='B'?'Bined mean':datum.label=='C'?'Canterbury seq':datum.label=='D'?'95% confidence interval':'Kaikōura seq'"}},
"strokeWidth":{"field":"g","type":"nominal","scale":{"domain":["A","C","K","B","D"],"range":[0.7,0.7,0.7,2.2,2.2]},
"legend":{"legendX":26,"legendY":-27,"title":null,"labelExpr":"datum.label=='A'?'All events':datum.label=='B'?'Bined mean':datum.label=='C'?'Canterbury seq':datum.label=='D'?'95% confidence interval':'Kaikōura seq'"}}}},
{"data":{"name":"ciA"},"mark":{"type":"line","color":"#9999ad","strokeWidth":2.2,"strokeDash":[7,5]},
"encoding":{"x":{"field":"m","type":"quantitative","axis":{"orient":"bottom","labels":false,"ticks":false,"grid":false,"domain":false,"title":"GIT","titleX":274,"titleY":40,"titleAlign":"left","titleBaseline":"alphabetic","titleFontSize":14}},"detail":{"field":"b"}}},
{"data":{"name":"meanA"},"mark":{"type":"line","color":"#9999ad","strokeWidth":2.5},
"encoding":{"x":{"field":"m","type":"quantitative","axis":{"orient":"bottom","labels":false,"ticks":false,"grid":false,"domain":false,"title":"w","titleX":274,"titleY":58,"titleAlign":"left","titleBaseline":"alphabetic","titleFontSize":14}}}},
{"data":{"name":"meanA"},"mark":{"type":"square","size":55,"filled":true,"fill":"#dcdce4","stroke":"#9999ad","strokeWidth":1.6,"opacity":1},
"encoding":{"x":{"field":"m","type":"quantitative","axis":null}}},
{"mark":{"type":"text","text":"r","fontStyle":"italic","fontSize":20,"align":"left","baseline":"alphabetic","color":"#000000"},"encoding":{"x":{"datum":3.55,"axis":null},"y":{"datum":0.0141}}},
{"mark":{"type":"text","text":"=0.06 (","fontSize":20,"align":"left","baseline":"alphabetic","dx":6.7,"color":"#000000"},"encoding":{"x":{"datum":3.55,"axis":null},"y":{"datum":0.0141}}},
{"mark":{"type":"text","text":"p","fontStyle":"italic","fontSize":20,"align":"left","baseline":"alphabetic","dx":69.6,"color":"#000000"},"encoding":{"x":{"datum":3.55,"axis":null},"y":{"datum":0.0141}}},
{"mark":{"type":"text","text":"=0.04)","fontSize":20,"align":"left","baseline":"alphabetic","dx":80.7,"color":"#000000"},"encoding":{"x":{"datum":3.55,"axis":null},"y":{"datum":0.0141}}}
]
},
{
"width":383,"height":295,
"title":{"text":"(b)","anchor":"start","frame":"group","orient":"top","fontSize":21,"fontWeight":"normal","color":"#000000","dx":-67,"dy":11,"offset":-20},
"encoding":{"x":{"field":"d","type":"quantitative","scale":{"domain":[0,30],"nice":false,"zero":false},
"axis":{"values":[0,5,10,15,20,25,30],"grid":true,"gridColor":"#e2e2e2","tickSize":-6,"labelPadding":10,"title":"Focal depth, D (km)","titleFontSize":18,"titlePadding":8}},
"y":{"field":"s","type":"quantitative","scale":{"type":"log","domain":[0.01,100],"nice":false},
"axis":{"title":"Stress parameter, Δσ (MPa)","titlePadding":8,"labelPadding":10,
"values":[0.01,0.02,0.03,0.04,0.05,0.06,0.07,0.08,0.09,0.1,0.2,0.3,0.4,0.5,0.6,0.7,0.8,0.9,1,2,3,4,5,6,7,8,9,10,20,30,40,50,60,70,80,90,100],
"labelExpr":"datum.value==100?'10²':datum.value==10?'10¹':datum.value==1?'10⁰':datum.value==0.1?'10⁻¹':datum.value==0.01?'10⁻²':''",
"gridDash":{"condition":{"test":"datum.value==100||datum.value==10||datum.value==1||datum.value==0.1||datum.value==0.01","value":[]},"value":[1,3]},
"gridColor":{"condition":{"test":"datum.value==100||datum.value==10||datum.value==1||datum.value==0.1||datum.value==0.01","value":"#e2e2e2"},"value":"#c4c4c4"},
"tickSize":{"condition":{"test":"datum.value==100||datum.value==10||datum.value==1||datum.value==0.1||datum.value==0.01","value":-6},"value":-3}}}},
"layer":[
{"data":{"name":"ev"},"mark":{"type":"point","filled":true,"size":78,"opacity":1},
"encoding":{
"color":{"field":"g","type":"nominal","scale":{"domain":["A","C","K","B","D"],"range":["#c8c8c8","#eda81c","#ff00ff","#dcdce4","#ffffff"]},
"legend":{"legendX":20,"legendY":-25,"title":null,"labelExpr":"datum.label=='A'?'All events':datum.label=='B'?'Bined mean':datum.label=='C'?'Canterbury seq':datum.label=='D'?'95% confidence interval':'Kaikōura seq'"}},
"stroke":{"field":"g","type":"nominal","scale":{"domain":["A","C","K","B","D"],"range":["#3a3a3a","#3a3a3a","#3a3a3a","#9999ad","#9999ad"]},
"legend":{"legendX":20,"legendY":-25,"title":null,"labelExpr":"datum.label=='A'?'All events':datum.label=='B'?'Bined mean':datum.label=='C'?'Canterbury seq':datum.label=='D'?'95% confidence interval':'Kaikōura seq'"}},
"shape":{"field":"g","type":"nominal","scale":{"domain":["A","C","K","B","D"],"range":["circle","circle","circle","M-4.1,-0.12H-1M1,-0.12H4.3M-4.1,0.12H-1M1,0.12H4.3M-1,-1H1V1H-1Z","M-4.1,-0.12H-2.5M-1.6,-0.12H0M0.9,-0.12H2.5M3.4,-0.12H4.3M-4.1,0.12H-2.5M-1.6,0.12H0M0.9,0.12H2.5M3.4,0.12H4.3"]},
"legend":{"legendX":20,"legendY":-25,"title":null,"labelExpr":"datum.label=='A'?'All events':datum.label=='B'?'Bined mean':datum.label=='C'?'Canterbury seq':datum.label=='D'?'95% confidence interval':'Kaikōura seq'"}},
"strokeWidth":{"field":"g","type":"nominal","scale":{"domain":["A","C","K","B","D"],"range":[0.7,0.7,0.7,2.2,2.2]},
"legend":{"legendX":20,"legendY":-25,"title":null,"labelExpr":"datum.label=='A'?'All events':datum.label=='B'?'Bined mean':datum.label=='C'?'Canterbury seq':datum.label=='D'?'95% confidence interval':'Kaikōura seq'"}}}},
{"data":{"name":"ciB"},"mark":{"type":"line","color":"#9999ad","strokeWidth":2.2,"strokeDash":[7,5]},"encoding":{"detail":{"field":"b"}}},
{"data":{"name":"meanB"},"mark":{"type":"line","color":"#9999ad","strokeWidth":2.5}},
{"data":{"name":"meanB"},"mark":{"type":"square","size":55,"filled":true,"fill":"#dcdce4","stroke":"#9999ad","strokeWidth":1.6,"opacity":1}},
{"mark":{"type":"text","text":"r","fontStyle":"italic","fontSize":20,"align":"left","baseline":"alphabetic","color":"#000000"},"encoding":{"x":{"datum":0.55},"y":{"datum":0.016}}},
{"mark":{"type":"text","text":"=0.22 (","fontSize":20,"align":"left","baseline":"alphabetic","dx":6.7,"color":"#000000"},"encoding":{"x":{"datum":0.55},"y":{"datum":0.016}}},
{"mark":{"type":"text","text":"p","fontStyle":"italic","fontSize":20,"align":"left","baseline":"alphabetic","dx":69.6,"color":"#000000"},"encoding":{"x":{"datum":0.55},"y":{"datum":0.016}}},
{"mark":{"type":"text","text":"=2e-14)","fontSize":20,"align":"left","baseline":"alphabetic","dx":80.7,"color":"#000000"},"encoding":{"x":{"datum":0.55},"y":{"datum":0.016}}}
]
}
]
}
